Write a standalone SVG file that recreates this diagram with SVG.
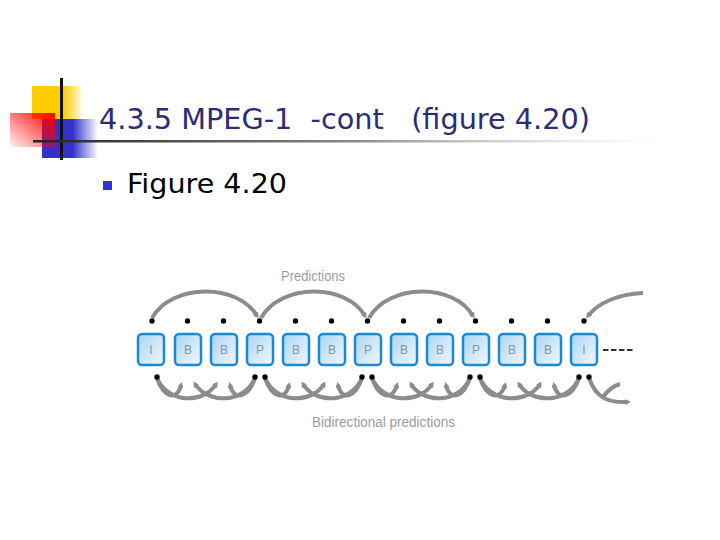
<svg xmlns="http://www.w3.org/2000/svg" width="720" height="540" viewBox="0 0 720 540">
<style>
.box{fill:url(#boxg);stroke:#1b8ad0;stroke-width:2.5}
.bl{font-family:"Liberation Sans",Arial,sans-serif;font-size:12px;fill:#8a96a0;text-anchor:middle}
.arc{fill:none;stroke:#8c8c8c;stroke-width:4;stroke-linecap:butt}
.dot{fill:#000}
.lab{font-family:"Liberation Sans",Arial,sans-serif;font-size:14px;fill:#9c9c9c}
</style>
<defs>
<linearGradient id="boxg" x1="0" y1="0" x2="1" y2="1">
<stop offset="0" stop-color="#a9d4f3"/><stop offset="1" stop-color="#f2f9fe"/>
</linearGradient>
<linearGradient id="yel" x1="0" y1="0" x2="1" y2="0">
<stop offset="0" stop-color="#ffcc00"/><stop offset="0.6" stop-color="#ffcc00"/><stop offset="1" stop-color="#ffcc00" stop-opacity="0"/>
</linearGradient>
<linearGradient id="red" x1="1" y1="0" x2="0" y2="1">
<stop offset="0" stop-color="#ff0000"/><stop offset="1" stop-color="#ff0000" stop-opacity="0.05"/>
</linearGradient>
<linearGradient id="blu" x1="0" y1="0" x2="1" y2="0">
<stop offset="0" stop-color="#3333cc"/><stop offset="0.55" stop-color="#3333cc"/><stop offset="1" stop-color="#3333cc" stop-opacity="0"/>
</linearGradient>
<linearGradient id="hl" x1="0" y1="0" x2="1" y2="0">
<stop offset="0" stop-color="#222222"/><stop offset="0.5" stop-color="#888888"/><stop offset="1" stop-color="#cccccc" stop-opacity="0"/>
</linearGradient>
<marker id="ah" viewBox="0 0 10 10" refX="5" refY="5" markerWidth="6" markerHeight="6" markerUnits="userSpaceOnUse" orient="auto">
<path d="M0,0 L10,5 L0,10 z" fill="#8c8c8c"/>
</marker>
</defs>

<g id="decor">
<rect x="32" y="86" width="52" height="33" fill="url(#yel)"/>
<rect x="42" y="119" width="56" height="39" fill="url(#blu)"/>
<rect x="10" y="113" width="45" height="34" fill="url(#red)"/>
<rect x="60" y="78" width="3" height="82" fill="#111"/>
<rect x="33" y="140" width="633" height="2.5" fill="url(#hl)"/>
</g>

<g id="title">
<text x="99" y="129" font-family="'DejaVu Sans',Tahoma,sans-serif" font-size="29" fill="#2b2b78" xml:space="preserve" textLength="491" lengthAdjust="spacingAndGlyphs">4.3.5 MPEG-1  -cont   (figure 4.20)</text>
</g>

<g id="bullet">
<rect x="103" y="181" width="9" height="9" fill="#3333cc"/>
<text x="127" y="193" font-family="'DejaVu Sans',Tahoma,sans-serif" font-size="27" fill="#000" textLength="160" lengthAdjust="spacingAndGlyphs">Figure 4.20</text>
</g>

<g id="frames">
<g id="f1"><rect class="box" x="138" y="334" width="26" height="31" rx="4"/><text class="bl" x="151" y="354">I</text></g>
<g id="f2"><rect class="box" x="175" y="334" width="26" height="31" rx="4"/><text class="bl" x="188" y="354">B</text></g>
<g id="f3"><rect class="box" x="211" y="334" width="26" height="31" rx="4"/><text class="bl" x="224" y="354">B</text></g>
<g id="f4"><rect class="box" x="247" y="334" width="26" height="31" rx="4"/><text class="bl" x="260" y="354">P</text></g>
<g id="f5"><rect class="box" x="283" y="334" width="26" height="31" rx="4"/><text class="bl" x="296" y="354">B</text></g>
<g id="f6"><rect class="box" x="319" y="334" width="26" height="31" rx="4"/><text class="bl" x="332" y="354">B</text></g>
<g id="f7"><rect class="box" x="355" y="334" width="26" height="31" rx="4"/><text class="bl" x="368" y="354">P</text></g>
<g id="f8"><rect class="box" x="391" y="334" width="26" height="31" rx="4"/><text class="bl" x="404" y="354">B</text></g>
<g id="f9"><rect class="box" x="427" y="334" width="26" height="31" rx="4"/><text class="bl" x="440" y="354">B</text></g>
<g id="f10"><rect class="box" x="463" y="334" width="26" height="31" rx="4"/><text class="bl" x="476" y="354">P</text></g>
<g id="f11"><rect class="box" x="499" y="334" width="26" height="31" rx="4"/><text class="bl" x="512" y="354">B</text></g>
<g id="f12"><rect class="box" x="535" y="334" width="26" height="31" rx="4"/><text class="bl" x="548" y="354">B</text></g>
<g id="f13"><rect class="box" x="571" y="334" width="26" height="31" rx="4"/><text class="bl" x="584" y="354">I</text></g>
</g>

<g id="connectors">
<path class="arc" marker-end="url(#ah)" d="M152,318 C172,283 238,283 257,316"/>
<path class="arc" marker-end="url(#ah)" d="M261,318 C281,283 346,283 365,316"/>
<path class="arc" marker-end="url(#ah)" d="M369,318 C389,283 454,283 473,316"/>
<path class="arc" marker-end="url(#ah)" d="M643,293 C618,294 598,303 588,316"/>

<path class="arc" marker-end="url(#ah)" d="M157,378 C163,397 177,402 181,385"/>
<path class="arc" marker-end="url(#ah)" d="M157,378 C168,404 204,404 216,384"/>
<path class="arc" marker-end="url(#ah)" d="M255,378 C244,404 208,404 195,384"/>
<path class="arc" marker-end="url(#ah)" d="M255,378 C249,397 234,402 230,385"/>

<path class="arc" marker-end="url(#ah)" d="M265,378 C271,397 285,402 289,385"/>
<path class="arc" marker-end="url(#ah)" d="M265,378 C276,404 312,404 324,384"/>
<path class="arc" marker-end="url(#ah)" d="M362,378 C351,404 315,404 303,384"/>
<path class="arc" marker-end="url(#ah)" d="M362,378 C356,397 342,402 338,385"/>

<path class="arc" marker-end="url(#ah)" d="M372,378 C378,397 392,402 397,385"/>
<path class="arc" marker-end="url(#ah)" d="M372,378 C383,404 420,404 432,384"/>
<path class="arc" marker-end="url(#ah)" d="M470,378 C459,404 423,404 411,384"/>
<path class="arc" marker-end="url(#ah)" d="M470,378 C464,397 450,402 446,385"/>

<path class="arc" marker-end="url(#ah)" d="M480,378 C486,397 500,402 505,385"/>
<path class="arc" marker-end="url(#ah)" d="M480,378 C491,404 528,404 540,384"/>
<path class="arc" marker-end="url(#ah)" d="M579,378 C568,404 531,404 519,384"/>
<path class="arc" marker-end="url(#ah)" d="M579,378 C573,397 558,402 554,385"/>

<path class="arc" marker-end="url(#ah)" d="M589,378 C596,398 608,403 628,402"/>
<path class="arc" d="M603,397 C608,390 613,386 620,384"/>

<line x1="603" y1="350" x2="634" y2="350" stroke="#333" stroke-width="2" stroke-dasharray="5.5,2.5"/>
</g>

<g id="dots">
<circle class="dot" cx="152" cy="321" r="2.7"/>
<circle class="dot" cx="187.5" cy="321" r="2.7"/>
<circle class="dot" cx="223.5" cy="321" r="2.7"/>
<circle class="dot" cx="259.5" cy="321" r="2.7"/>
<circle class="dot" cx="295.5" cy="321" r="2.7"/>
<circle class="dot" cx="331.5" cy="321" r="2.7"/>
<circle class="dot" cx="367.5" cy="321" r="2.7"/>
<circle class="dot" cx="403.5" cy="321" r="2.7"/>
<circle class="dot" cx="439.5" cy="321" r="2.7"/>
<circle class="dot" cx="475.5" cy="321" r="2.7"/>
<circle class="dot" cx="511.5" cy="321" r="2.7"/>
<circle class="dot" cx="547.5" cy="321" r="2.7"/>
<circle class="dot" cx="584" cy="321" r="2.7"/>
<circle class="dot" cx="157" cy="377" r="2.7"/>
<circle class="dot" cx="255" cy="377" r="2.7"/>
<circle class="dot" cx="265" cy="377" r="2.7"/>
<circle class="dot" cx="362" cy="377" r="2.7"/>
<circle class="dot" cx="372" cy="377" r="2.7"/>
<circle class="dot" cx="470" cy="377" r="2.7"/>
<circle class="dot" cx="480" cy="377" r="2.7"/>
<circle class="dot" cx="579" cy="377" r="2.7"/>
<circle class="dot" cx="589" cy="377" r="2.7"/>
</g>

<g id="labels">
<text class="lab" x="281" y="281" textLength="64" lengthAdjust="spacingAndGlyphs">Predictions</text>
<text class="lab" x="312" y="427" textLength="143" lengthAdjust="spacingAndGlyphs">Bidirectional predictions</text>
</g>
</svg>
